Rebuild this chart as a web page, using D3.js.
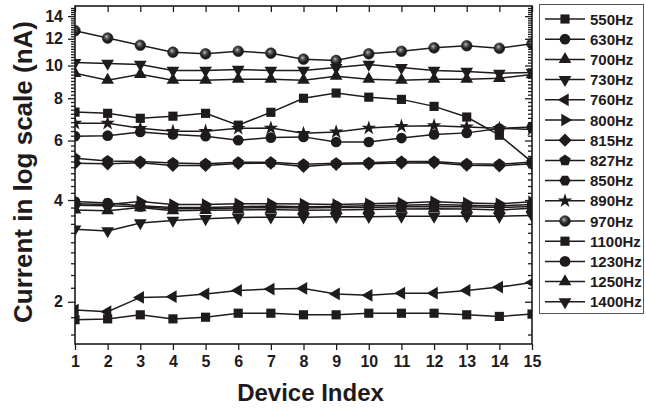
<!DOCTYPE html>
<html>
<head>
<meta charset="utf-8">
<script src="https://cdn.jsdelivr.net/npm/d3@7"></script>
<style>
  html, body { margin: 0; padding: 0; background: #fff; }
  svg { display: block; }
  text { font-family: "Liberation Sans", Arial, sans-serif; font-weight: bold; fill: #1f1b1c; }
</style>
</head>
<body>
<svg id="chart" width="646" height="409"></svg>
<script>
// Device indices along the x axis
const devices = [1, 2, 3, 4, 5, 6, 7, 8, 9, 10, 11, 12, 13, 14, 15];

// Frequencies (legend order) and their marker shapes
const frequencies = ["550Hz", "630Hz", "700Hz", "730Hz", "760Hz", "800Hz", "815Hz", "827Hz",
                     "850Hz", "890Hz", "970Hz", "1100Hz", "1230Hz", "1250Hz", "1400Hz"];
const markers = ["square", "circle", "up", "down", "left", "right", "diamond", "pentagon",
                 "hexagon", "star", "sphere", "square", "circle", "up", "down"];

// Measured current (nA) per device, one array per frequency
const i550  = [7.28, 7.22, 6.98, 7.08, 7.22, 6.66, 7.27, 8.00, 8.29, 8.06, 7.94, 7.57, 7.04, 6.22, 5.18];
const i630  = [6.18, 6.20, 6.36, 6.25, 6.18, 6.01, 6.12, 6.15, 5.94, 5.94, 6.10, 6.25, 6.32, 6.51, 6.58];
const i700  = [9.48, 9.05, 9.42, 9.05, 9.05, 9.11, 9.11, 9.05, 9.30, 9.11, 9.05, 9.11, 9.11, 9.17, 9.40];
const i730  = [10.20, 10.14, 10.07, 9.67, 9.67, 9.73, 9.67, 9.67, 9.86, 10.07, 9.86, 9.67, 9.60, 9.48, 9.54];
const i760  = [1.89, 1.87, 2.06, 2.07, 2.11, 2.16, 2.18, 2.19, 2.11, 2.09, 2.12, 2.12, 2.16, 2.21, 2.28];
const i800  = [3.90, 3.88, 3.96, 3.88, 3.88, 3.90, 3.90, 3.89, 3.88, 3.90, 3.92, 3.95, 3.92, 3.90, 3.95];
const i815  = [5.14, 5.12, 5.16, 5.06, 5.06, 5.13, 5.14, 5.03, 5.10, 5.12, 5.15, 5.16, 5.07, 5.05, 5.12];
const i827  = [5.32, 5.22, 5.20, 5.15, 5.12, 5.17, 5.17, 5.10, 5.14, 5.16, 5.20, 5.20, 5.12, 5.10, 5.18];
const i850  = [3.86, 3.85, 3.82, 3.77, 3.77, 3.79, 3.80, 3.79, 3.80, 3.80, 3.82, 3.83, 3.82, 3.80, 3.83];
const i890  = [6.75, 6.75, 6.52, 6.39, 6.39, 6.52, 6.53, 6.30, 6.36, 6.53, 6.61, 6.64, 6.58, 6.52, 6.47];
const i970  = [12.68, 12.06, 11.48, 10.95, 10.83, 11.02, 10.88, 10.44, 10.35, 10.83, 11.02, 11.28, 11.44, 11.25, 11.60];
const i1100 = [1.77, 1.78, 1.83, 1.78, 1.80, 1.85, 1.85, 1.83, 1.83, 1.85, 1.85, 1.85, 1.83, 1.81, 1.84];
const i1230 = [3.96, 3.92, 3.85, 3.80, 3.80, 3.82, 3.84, 3.82, 3.83, 3.85, 3.86, 3.88, 3.86, 3.84, 3.88];
const i1250 = [3.74, 3.72, 3.80, 3.72, 3.73, 3.74, 3.75, 3.73, 3.74, 3.75, 3.76, 3.77, 3.76, 3.74, 3.78];
const i1400 = [3.28, 3.24, 3.42, 3.48, 3.52, 3.55, 3.56, 3.56, 3.57, 3.57, 3.58, 3.58, 3.59, 3.58, 3.60];

const currents = [i550, i630, i700, i730, i760, i800, i815, i827, i850, i890, i970, i1100, i1230, i1250, i1400];

// Axis tick values
const yMajor = [2, 4, 6, 8, 10, 12, 14];
const yMinor = d3.range(16, 149, 2).map(v => v / 10).filter(v => !yMajor.includes(v));

const series = frequencies.map((f, k) => ({
  name: f,
  marker: markers[k],
  points: devices.map((d, j) => ({ d, v: currents[k][j] }))
}));

const svg = d3.select("#chart");
const plot = { left: 75, right: 532, top: 6, bottom: 344 };
const ink = "#1f1b1c";

const x = d3.scaleLinear().domain([1, 15]).range([plot.left, plot.right]);
const y = d3.scaleLog().domain([1.5, 15]).range([plot.bottom, plot.top]);

// Marker paths
function polygon(n, r, rot) {
  const p = d3.path();
  for (let i = 0; i < n; i++) {
    const a = rot + i * 2 * Math.PI / n;
    const px = r * Math.cos(a), py = r * Math.sin(a);
    if (i === 0) p.moveTo(px, py); else p.lineTo(px, py);
  }
  p.closePath();
  return p.toString();
}
const tri = d3.symbol(d3.symbolTriangle, 70)();
function markerPath(m) {
  switch (m) {
    case "square": return d3.symbol(d3.symbolSquare, 84)();
    case "circle": case "sphere": return d3.symbol(d3.symbolCircle, 90)();
    case "up": case "down": case "left": case "right": return tri;
    case "diamond": return polygon(4, 6.6, 0);
    case "pentagon": return polygon(5, 6.0, -Math.PI / 2);
    case "hexagon": return polygon(6, 5.7, 0);
    case "star": return d3.symbol(d3.symbolStar, 66)();
  }
}
const markerRot = { down: 180, left: -90, right: 90 };

// Shaded ball for the 970Hz marker
const defs = svg.append("defs");
const grad = defs.append("radialGradient").attr("id", "ball")
  .attr("cx", "45%").attr("cy", "42%").attr("r", "60%").attr("fx", "40%").attr("fy", "36%");
grad.append("stop").attr("offset", "0%").attr("stop-color", "#cfcfcf");
grad.append("stop").attr("offset", "22%").attr("stop-color", "#6e6e6e");
grad.append("stop").attr("offset", "60%").attr("stop-color", "#262626");
grad.append("stop").attr("offset", "100%").attr("stop-color", "#0e0e0e");

defs.append("clipPath").attr("id", "plotClip").append("rect")
  .attr("x", plot.left).attr("y", plot.top)
  .attr("width", plot.right - plot.left).attr("height", plot.bottom - plot.top);

// Lines and markers, clipped to the plot frame
const body = svg.append("g").attr("clip-path", "url(#plotClip)");
const line = d3.line().x(p => x(p.d)).y(p => y(p.v));

series.forEach(s => {
  body.append("path")
    .attr("d", line(s.points))
    .attr("fill", "none").attr("stroke", ink).attr("stroke-width", 1.5);
});
series.forEach(s => {
  body.selectAll(null).data(s.points).enter().append("path")
    .attr("d", markerPath(s.marker))
    .attr("transform", p => `translate(${x(p.d)},${y(p.v)}) rotate(${markerRot[s.marker] || 0})`)
    .attr("fill", s.marker === "sphere" ? "url(#ball)" : ink)
    .attr("stroke", s.marker === "sphere" ? "#222" : "none")
    .attr("stroke-width", 0.6);
});

// Axes: bottom and left outward ticks, top and right inward ticks
const axisG = svg.append("g");
const bottomAxis = d3.axisBottom(x).tickValues(devices).tickFormat(d3.format("d")).tickSize(6).tickPadding(6);
const topAxis = d3.axisTop(x).tickValues(devices).tickFormat("").tickSize(-6);
const leftMajor = d3.axisLeft(y).tickValues(yMajor).tickFormat(d3.format("d")).tickSize(7).tickPadding(5);
const leftMinor = d3.axisLeft(y).tickValues(yMinor).tickFormat("").tickSize(4);
const rightMajor = d3.axisRight(y).tickValues(yMajor).tickFormat("").tickSize(-7);
const rightMinor = d3.axisRight(y).tickValues(yMinor).tickFormat("").tickSize(-4);

function styleAxis(g, fontSize) {
  g.select(".domain").remove();
  g.selectAll(".tick line").attr("stroke", ink).attr("stroke-width", 1.3);
  g.selectAll(".tick text").attr("font-size", fontSize).attr("fill", ink)
    .attr("font-family", "'Liberation Sans', Arial, sans-serif").attr("font-weight", "bold");
}
axisG.append("g").attr("transform", `translate(0,${plot.bottom})`).call(bottomAxis).call(g => styleAxis(g, 16));
axisG.append("g").attr("transform", `translate(0,${plot.top})`).call(topAxis).call(g => styleAxis(g, 16));
axisG.append("g").attr("transform", `translate(${plot.left},0)`).call(leftMajor).call(g => styleAxis(g, 16));
axisG.append("g").attr("transform", `translate(${plot.left},0)`).call(leftMinor).call(g => styleAxis(g, 16));
axisG.append("g").attr("transform", `translate(${plot.right},0)`).call(rightMajor).call(g => styleAxis(g, 16));
axisG.append("g").attr("transform", `translate(${plot.right},0)`).call(rightMinor).call(g => styleAxis(g, 16));

// Frame
svg.append("rect")
  .attr("x", plot.left).attr("y", plot.top)
  .attr("width", plot.right - plot.left).attr("height", plot.bottom - plot.top)
  .attr("fill", "none").attr("stroke", ink).attr("stroke-width", 1.6);

// Axis titles
svg.append("text")
  .attr("transform", `translate(32,172) rotate(-90)`)
  .attr("text-anchor", "middle").attr("font-size", 26)
  .text("Current in log scale (nA)");
svg.append("text")
  .attr("x", (plot.left + plot.right) / 2 + 7).attr("y", 401)
  .attr("text-anchor", "middle").attr("font-size", 24)
  .text("Device Index");

// Legend
const legend = svg.append("g");
legend.append("rect")
  .attr("x", 539.5).attr("y", 4.5).attr("width", 104).attr("height", 309)
  .attr("fill", "#fff").attr("stroke", "#555").attr("stroke-width", 1);
const leg = legend.selectAll("g.item").data(series).enter().append("g")
  .attr("transform", (s, i) => `translate(0,${19 + i * 20.2})`);
leg.append("line").attr("x1", 545).attr("x2", 585).attr("y1", 0).attr("y2", 0)
  .attr("stroke", ink).attr("stroke-width", 1.5);
leg.append("path")
  .attr("d", s => markerPath(s.marker))
  .attr("transform", s => `translate(565,0) rotate(${markerRot[s.marker] || 0})`)
  .attr("fill", s => s.marker === "sphere" ? "url(#ball)" : ink)
  .attr("stroke", s => s.marker === "sphere" ? "#222" : "none")
  .attr("stroke-width", 0.6);
leg.append("text").attr("x", 590).attr("y", 5.5).attr("font-size", 15)
  .text(s => s.name);
</script>
</body>
</html>
